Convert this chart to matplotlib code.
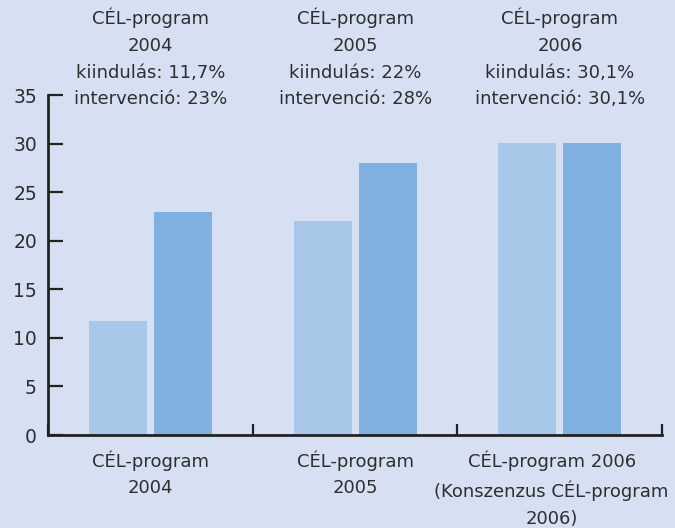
import matplotlib.pyplot as plt
import matplotlib.transforms as mtransforms
import numpy as np

plt.rcParams['font.family'] = ['DejaVu Sans']

# data
groups = ["CÉL-program\n2004", "CÉL-program\n2005",
          "CÉL-program 2006\n(Konszenzus CÉL-program\n2006)"]
kiindulas = [11.7, 22, 30.1]
intervencio = [23, 28, 30.1]
top_notes = ["CÉL-program\n2004\nkiindulás: 11,7%\nintervenció: 23%",
             "CÉL-program\n2005\nkiindulás: 22%\nintervenció: 28%",
             "CÉL-program\n2006\nkiindulás: 30,1%\nintervenció: 30,1%"]
yticks = [0, 5, 10, 15, 20, 25, 30, 35]

bg = '#d6e0f2'
light = '#a8c8ea'
dark = '#80b0e0'
txt = '#2e2e2e'

fig = plt.figure(figsize=(6.75, 5.28), dpi=100, facecolor=bg)
ax = fig.add_axes([0.0711, 0.176, 0.910, 0.644], facecolor=bg)

x = np.arange(len(groups))
w = 0.283
ax.bar(x - 0.159, kiindulas, w, color=light)
ax.bar(x + 0.159, intervencio, w, color=dark)

ax.set_xlim(-0.5, 2.5)
ax.set_ylim(0, 35)

for s in ['top', 'right']:
    ax.spines[s].set_visible(False)
for s in ['left', 'bottom']:
    ax.spines[s].set_linewidth(2)
    ax.spines[s].set_color('#222222')

ax.set_yticks(yticks)
ax.tick_params(axis='y', direction='in', length=11, width=1.6, colors='#222222',
               labelsize=13.5, labelcolor=txt, pad=8)

# group boundaries as ticks
ax.set_xticks([-0.5, 0.5, 1.5, 2.5])
ax.set_xticklabels([])
ax.tick_params(axis='x', direction='in', length=8, width=1.6, colors='#222222')

trans = mtransforms.blended_transform_factory(ax.transData, fig.transFigure)
label_x = [0, 1, 1.96]
for xi, g in zip(label_x, groups):
    ax.text(xi, 0.147, g, transform=trans, ha='center', va='top',
            fontsize=13, color=txt, linespacing=1.6)

for i, note in enumerate(top_notes):
    ax.text(i, 0.985, note, transform=trans, ha='center', va='top',
            fontsize=13, color=txt, linespacing=1.62)

fig.savefig('out.png', dpi=100, facecolor=bg)
